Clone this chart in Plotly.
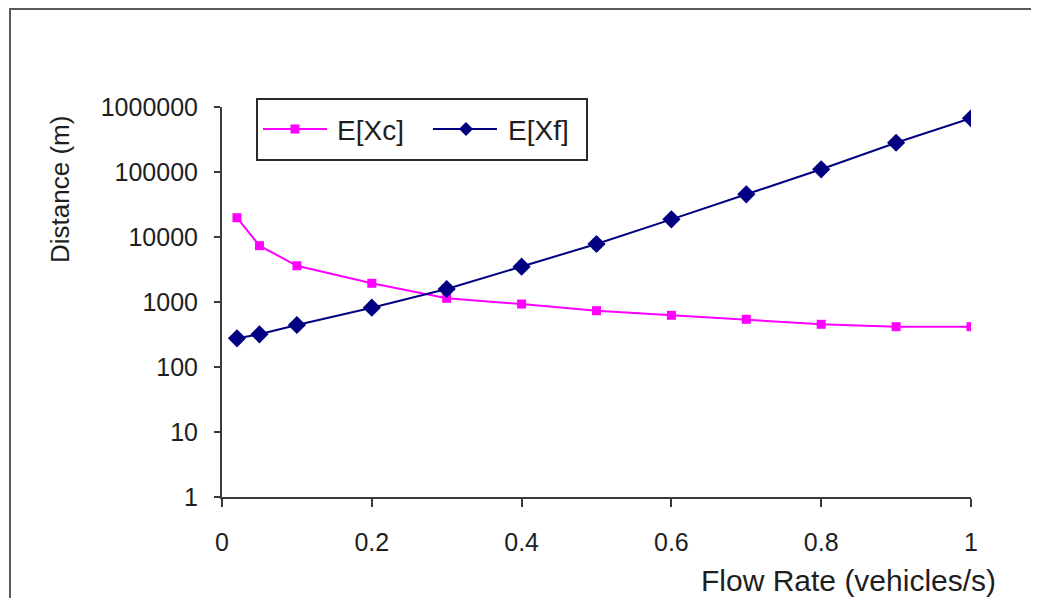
import plotly.graph_objects as go

flow_rate = [0.02, 0.05, 0.1, 0.2, 0.3, 0.4, 0.5, 0.6, 0.7, 0.8, 0.9, 1.0]
e_xc = [19800, 7350, 3610, 1940, 1140, 931, 735, 624, 542, 454, 417, 417]
e_xf = [276, 318, 443, 817, 1585, 3490, 7800, 18700, 45400, 110000, 282000, 670000]

y_tick_vals = [1, 10, 100, 1000, 10000, 100000, 1000000]
y_tick_text = ["1", "10", "100", "1000", "10000", "100000", "1000000"]
x_tick_vals = [0, 0.2, 0.4, 0.6, 0.8, 1]
x_tick_text = ["0", "0.2", "0.4", "0.6", "0.8", "1"]

FONT = "Liberation Sans, Arial, sans-serif"
OFF = 8  # page body margin
W, H = 1023, 590
L, T = 222 - OFF, 107 - OFF
R = (W + OFF) - 971
B = (H + OFF) - 497
pw, ph = W - L - R, H - T - B

def px(x):
    # page pixel -> paper fraction
    return (x - OFF - L) / pw

def py(y):
    return (OFF + H - B - y) / ph

PINK = "#FF00FF"
NAVY = "#000080"
TXT = "#1e1e1e"

fig = go.Figure()
fig.add_trace(go.Scatter(
    x=flow_rate, y=e_xc, name="E[Xc]", mode="lines+markers",
    line=dict(color=PINK, width=2),
    marker=dict(symbol="square", size=9, color=PINK),
))
fig.add_trace(go.Scatter(
    x=flow_rate, y=e_xf, name="E[Xf]", mode="lines+markers",
    line=dict(color=NAVY, width=2),
    marker=dict(symbol="diamond", size=14, color=NAVY),
))

axis_color = "#3a3a3a"
ly = 129
shapes = [
    # outer frame: left edge and top edge as thin filled bars (no strokes)
    dict(type="rect", xref="paper", yref="paper", x0=px(9), x1=px(11), y0=py(8), y1=py(OFF + H),
         line=dict(width=0), fillcolor="#5a5a5a", layer="below"),
    dict(type="rect", xref="paper", yref="paper", x0=px(9), x1=px(OFF + W), y0=py(8), y1=py(10),
         line=dict(width=0), fillcolor="#5a5a5a", layer="below"),
    # legend box
    dict(type="rect", xref="paper", yref="paper", x0=px(257), x1=px(587), y0=py(99), y1=py(160),
         line=dict(color="#2a2a2a", width=2), fillcolor="white", layer="above"),
    # legend samples
    dict(type="line", xref="paper", yref="paper", x0=px(263), x1=px(327), y0=py(ly), y1=py(ly),
         line=dict(color=PINK, width=2), layer="above"),
    dict(type="rect", xref="paper", yref="paper", xsizemode="pixel", ysizemode="pixel",
         xanchor=px(295), yanchor=py(ly), x0=-4.5, x1=4.5, y0=-4.5, y1=4.5,
         line=dict(width=0), fillcolor=PINK, layer="above"),
    dict(type="line", xref="paper", yref="paper", x0=px(433), x1=px(497), y0=py(ly), y1=py(ly),
         line=dict(color=NAVY, width=2), layer="above"),
    dict(type="path", xref="paper", yref="paper", xsizemode="pixel", ysizemode="pixel",
         xanchor=px(466), yanchor=py(ly), path="M -7 0 L 0 7 L 7 0 L 0 -7 Z",
         line=dict(width=0), fillcolor=NAVY, layer="above"),
]

annotations = [
    dict(text="Distance (m)", x=px(60), y=py(190), xref="paper", yref="paper",
         xanchor="center", yanchor="middle", textangle=-90, showarrow=False,
         font=dict(size=26, family=FONT, color=TXT)),
    dict(text="Flow Rate (vehicles/s)", x=px(998), y=py(580), xref="paper", yref="paper",
         xanchor="right", yanchor="middle", showarrow=False,
         font=dict(size=30, family=FONT, color=TXT)),
    dict(text="E[Xc]", x=px(335), y=py(ly + 1), xref="paper", yref="paper",
         xanchor="left", yanchor="middle", showarrow=False,
         font=dict(size=28, family=FONT, color=TXT)),
    dict(text="E[Xf]", x=px(506), y=py(ly + 1), xref="paper", yref="paper",
         xanchor="left", yanchor="middle", showarrow=False,
         font=dict(size=28, family=FONT, color=TXT)),
]

fig.update_layout(
    width=W, height=H,
    margin=dict(l=L, r=R, t=T, b=B),
    paper_bgcolor="white", plot_bgcolor="white",
    font=dict(family=FONT, size=25, color=TXT),
    showlegend=False,
    xaxis=dict(
        range=[0, 1], tickmode="array", tickvals=x_tick_vals, ticktext=x_tick_text,
        showgrid=False, zeroline=False, showline=True, linecolor=axis_color, linewidth=2,
        ticks="outside", ticklen=8, tickwidth=2, tickcolor=axis_color,
        ticklabelstandoff=14, tickfont=dict(size=25, family=FONT, color=TXT),
    ),
    yaxis=dict(
        type="log", range=[0, 6], tickmode="array", tickvals=y_tick_vals, ticktext=y_tick_text,
        showgrid=False, zeroline=False, showline=True, linecolor=axis_color, linewidth=2,
        ticks="outside", ticklen=6, tickwidth=2, tickcolor=axis_color,
        ticklabelstandoff=11, tickfont=dict(size=25, family=FONT, color=TXT),
    ),
    annotations=annotations,
    shapes=shapes,
)

fig.write_html("out.html")
